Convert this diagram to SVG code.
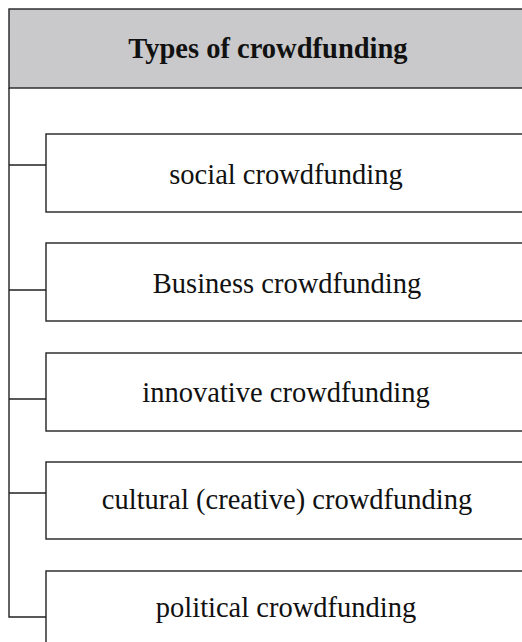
<svg xmlns="http://www.w3.org/2000/svg" width="522" height="642" viewBox="0 0 522 642">
<style>
.box{fill:#ffffff;stroke:#222;stroke-width:1.4}
.hdr{fill:#c9c9cb;stroke:#222;stroke-width:1.4}
.ln{stroke:#222;stroke-width:1.4;fill:none}
.t{font-family:"Liberation Serif","Times New Roman",serif;font-size:28.5px;fill:#111;text-anchor:middle}
.tb{font-family:"Liberation Serif","Times New Roman",serif;font-size:28.5px;font-weight:bold;fill:#111;text-anchor:middle}
</style>
<rect width="522" height="642" fill="#ffffff"/>
<g id="header">
<rect class="hdr" x="9" y="9" width="530" height="79"/>
<text class="tb" x="268" y="58">Types of crowdfunding</text>
</g>
<g id="connectors">
<path class="ln" d="M9 88 V617 H46"/>
<path class="ln" d="M9 165 H46 M9 290 H46 M9 399 H46 M9 493 H46"/>
</g>
<g id="social">
<rect class="box" x="46" y="134" width="490" height="78"/>
<text class="t" x="286" y="184">social crowdfunding</text>
</g>
<g id="business">
<rect class="box" x="46" y="243" width="490" height="78"/>
<text class="t" x="287" y="293">Business crowdfunding</text>
</g>
<g id="innovative">
<rect class="box" x="46" y="353" width="490" height="78"/>
<text class="t" x="286" y="402">innovative crowdfunding</text>
</g>
<g id="cultural">
<rect class="box" x="46" y="462" width="490" height="77"/>
<text class="t" x="287" y="509">cultural (creative) crowdfunding</text>
</g>
<g id="political">
<rect class="box" x="46" y="571" width="490" height="90"/>
<text class="t" x="286" y="617">political crowdfunding</text>
</g>
</svg>
